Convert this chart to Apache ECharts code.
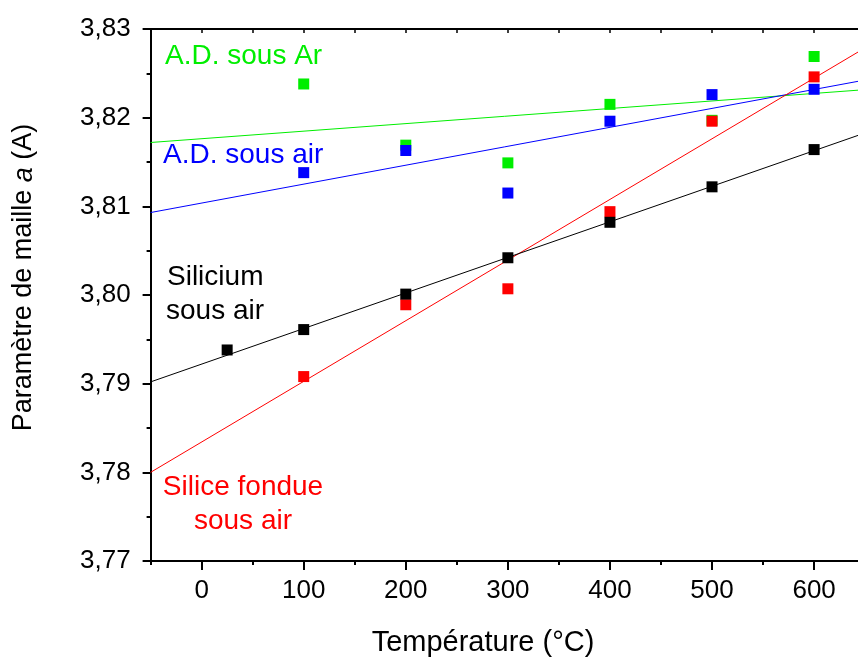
<!DOCTYPE html>
<html>
<head>
<meta charset="utf-8">
<script src="https://cdn.jsdelivr.net/npm/echarts@6/dist/echarts.min.js"></script>
<style>html,body{margin:0;padding:0;background:#fff}#c{width:858px;height:662px}</style>
</head>
<body>
<div id="c"></div>
<script>
// Data (temperature °C, lattice parameter a in Å)
var siliciumT = [25, 100, 200, 300, 400, 500, 600];
var siliciumA = [3.7938, 3.7961, 3.8001, 3.8042, 3.8082, 3.8122, 3.8164];
var siliceT = [100, 200, 300, 400, 500, 600];
var siliceA = [3.7908, 3.7989, 3.8007, 3.8094, 3.8196, 3.8246];
var adAirT = [100, 200, 300, 400, 500, 600];
var adAirA = [3.8138, 3.8163, 3.8115, 3.8196, 3.8226, 3.8232];
var adArT = [100, 200, 300, 400, 500, 600];
var adArA = [3.8238, 3.8169, 3.8149, 3.8215, 3.8197, 3.8269];
// Linear fit lines: [x, y] end points
var fitT = [-50, 643];
var siliciumFit = [3.7902, 3.8180];
var siliceFit = [3.7800, 3.8274];
var adAirFit = [3.8093, 3.8241];
var adArFit = [3.8172, 3.8231];
// Ticks
var xMajor = [0, 100, 200, 300, 400, 500, 600];
var xMinor = [-50, 50, 150, 250, 350, 450, 550];
var xTop = [-50, 0, 50, 100, 150, 200, 250, 300, 350, 400, 450, 500, 550, 600];

var FONT = '"Liberation Sans", Arial, sans-serif';
var GREEN = '#00ee00', BLUE = '#0000ff', RED = '#ff0000', BLACK = '#000000';

function zip(xs, ys) { return xs.map(function (x, i) { return [x, ys[i]]; }); }

function scatter(name, xs, ys, color, z) {
  return { name: name, type: 'scatter', xAxisIndex: 0, yAxisIndex: 0, data: zip(xs, ys),
    symbol: 'rect', symbolSize: 11, itemStyle: { color: color, opacity: 1 }, z: z, silent: true };
}
function fit(name, ys, color) {
  return { name: name, type: 'line', xAxisIndex: 0, yAxisIndex: 0, data: zip(fitT, ys),
    showSymbol: false, symbol: 'none', lineStyle: { color: color, width: 1 }, z: 2, silent: true, animation: false };
}

var chart = echarts.init(document.getElementById('c'), null, { renderer: 'canvas' });
function axisLine() { return { show: true, onZero: false, lineStyle: { color: BLACK, width: 2 } }; }
chart.setOption({
  animation: false,
  backgroundColor: '#ffffff',
  grid: { left: 150.6, top: 29, right: 0, bottom: 101, containLabel: false },
  xAxis: [
    { type: 'value', min: -50, max: 643, position: 'bottom', axisLine: axisLine(),
      axisTick: { show: true, customValues: xMajor, length: 9, inside: false, lineStyle: { color: BLACK, width: 2 } },
      axisLabel: { customValues: xMajor, fontSize: 26, fontFamily: FONT, color: BLACK, margin: 17 },
      splitLine: { show: false } },
    { type: 'value', min: -50, max: 643, position: 'bottom', axisLine: { show: false, onZero: false },
      axisTick: { show: true, customValues: xMinor, length: 4, inside: false, lineStyle: { color: BLACK, width: 2 } },
      axisLabel: { show: false }, splitLine: { show: false } },
    { type: 'value', min: -50, max: 643, position: 'top', axisLine: axisLine(),
      axisTick: { show: true, customValues: xTop, length: 4, inside: true, lineStyle: { color: BLACK, width: 1.5 } },
      axisLabel: { show: false }, splitLine: { show: false } }
  ],
  yAxis: [
    { type: 'value', min: 3.77, max: 3.83, interval: 0.01, position: 'left', axisLine: axisLine(),
      axisTick: { show: true, length: 8, inside: false, lineStyle: { color: BLACK, width: 2 } },
      minorTick: { show: true, splitNumber: 2, length: 4, lineStyle: { color: BLACK, width: 2 } },
      axisLabel: { fontSize: 26, fontFamily: FONT, color: BLACK, margin: 20,
        formatter: function (v) { return v.toFixed(2).replace('.', ','); } },
      splitLine: { show: false }, minorSplitLine: { show: false } }
  ],
  series: [
    fit('fitAr', adArFit, GREEN),
    fit('fitAir', adAirFit, BLUE),
    fit('fitSilice', siliceFit, RED),
    fit('fitSilicium', siliciumFit, BLACK),
    scatter('A.D. sous Ar', adArT, adArA, GREEN, 3),
    scatter('A.D. sous air', adAirT, adAirA, BLUE, 4),
    scatter('Silice fondue sous air', siliceT, siliceA, RED, 5),
    scatter('Silicium sous air', siliciumT, siliciumA, BLACK, 6)
  ],
  graphic: [
    { type: 'text', x: 24, y: 277.5, rotation: Math.PI / 2,
      style: { text: '{n|Paramètre de maille }{i|a}{n| (A)}', align: 'center', verticalAlign: 'middle', fill: BLACK,
        rich: { n: { fontSize: 27, fontFamily: FONT, fill: BLACK }, i: { fontSize: 27, fontFamily: FONT, fontStyle: 'italic', fill: BLACK } } } },
    { type: 'text', x: 483, y: 643,
      style: { text: 'Température (°C)', fontSize: 29, fontFamily: FONT, fill: BLACK, align: 'center', verticalAlign: 'middle' } },
    { type: 'text', x: 165, y: 56,
      style: { text: 'A.D. sous Ar', fontSize: 28, fontFamily: FONT, fill: GREEN, align: 'left', verticalAlign: 'middle' } },
    { type: 'text', x: 163, y: 155,
      style: { text: 'A.D. sous air', fontSize: 28, fontFamily: FONT, fill: BLUE, align: 'left', verticalAlign: 'middle' } },
    { type: 'text', x: 167, y: 277.5,
      style: { text: 'Silicium', fontSize: 28, fontFamily: FONT, fill: BLACK, align: 'left', verticalAlign: 'middle' } },
    { type: 'text', x: 166, y: 311.5,
      style: { text: 'sous air', fontSize: 28, fontFamily: FONT, fill: BLACK, align: 'left', verticalAlign: 'middle' } },
    { type: 'text', x: 243, y: 487.5,
      style: { text: 'Silice fondue', fontSize: 28, fontFamily: FONT, fill: RED, align: 'center', verticalAlign: 'middle' } },
    { type: 'text', x: 243, y: 521.5,
      style: { text: 'sous air', fontSize: 28, fontFamily: FONT, fill: RED, align: 'center', verticalAlign: 'middle' } }
  ]
});
</script>
</body>
</html>
